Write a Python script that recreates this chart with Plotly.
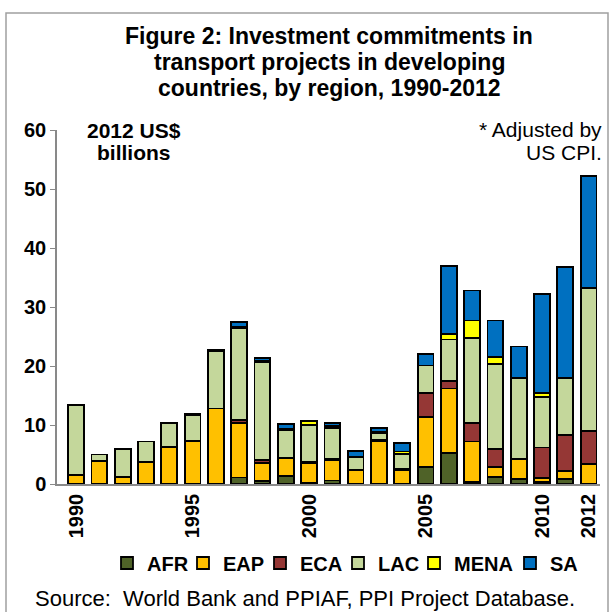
import plotly.graph_objects as go

years = list(range(1990, 2013))
regions = ["AFR", "EAP", "ECA", "LAC", "MENA", "SA"]
afr = [0, 0, 0, 0, 0, 0, 0.1, 1.1, 0.5, 1.4, 0.2, 0.6, 0.1, 0.1, 0.1, 2.9, 5.2, 0.3, 1.2, 0.8, 0.4, 0.85, 0.05]
eap = [1.5, 3.9, 1.2, 3.7, 6.3, 7.3, 12.7, 9.3, 3.0, 3.0, 3.4, 3.5, 2.2, 7.2, 2.2, 8.5, 11.0, 6.9, 1.7, 3.4, 0.6, 1.35, 3.4]
eca = [0, 0, 0, 0, 0, 0, 0, 0.4, 0.6, 0.1, 0.2, 0.1, 0.1, 0.1, 0.2, 4.0, 1.3, 3.2, 3.1, 0.1, 5.2, 6.1, 5.6]
lac = [11.9, 1.1, 4.7, 3.5, 4.1, 4.4, 9.8, 15.6, 16.6, 4.7, 6.2, 5.3, 2.2, 1.3, 2.6, 4.7, 7.0, 14.3, 14.4, 13.6, 8.6, 9.6, 24.2]
mena = [0, 0, 0, 0, 0, 0.1, 0.1, 0.3, 0.2, 0.1, 0.6, 0.3, 0, 0.1, 0.4, 0, 0.9, 3.0, 1.1, 0.1, 0.6, 0, 0]
sa = [0, 0, 0, 0, 0, 0.1, 0.1, 0.8, 0.4, 0.9, 0.1, 0.5, 1.0, 0.7, 1.4, 1.9, 11.6, 5.1, 6.2, 5.3, 16.8, 18.9, 19.0]
tick_years = [1990, 1995, 2000, 2005, 2010, 2012]
title_lines = ["Figure 2: Investment commitments in",
               "transport projects in developing",
               "countries, by region, 1990-2012"]

series = [afr, eap, eca, lac, mena, sa]
colors = ["#4F6228", "#FFC000", "#953735", "#C4D79B", "#FFFF00", "#0070C0"]

FONT = "Liberation Sans, Arial, sans-serif"

# plot area in pixels
L, R, T, B = 57, 600, 130, 484
W, H = R - L, B - T


def px(x):
    return (x - L) / W


def py(y):
    return (B - y) / H


# legend text left positions (pixels) in the original
legend_text_x = [147, 223, 300, 378, 454, 550]

fig = go.Figure()
for i, (name, vals, col) in enumerate(zip(regions, series, colors)):
    lg = "legend" if i == 0 else f"legend{i + 1}"
    fig.add_trace(go.Bar(
        x=years, y=vals, name=name, width=0.68, legend=lg, showlegend=True,
        marker=dict(color=col, line=dict(color="black", width=1.8)),
    ))

layout = dict(
    barmode="stack",
    showlegend=True,
    width=610, height=612,
    margin=dict(l=L, r=610 - R, t=T, b=612 - B),
    paper_bgcolor="white", plot_bgcolor="white",
    font=dict(family=FONT, color="black"),
    xaxis=dict(
        range=[1989.18, 2012.49], tickvals=tick_years,
        tickangle=-90, tickfont=dict(family=FONT, size=20, weight="bold"),
        showline=True, linecolor="#898989", linewidth=1.5,
        showgrid=False, zeroline=False, ticks="",
    ),
    yaxis=dict(
        range=[0, 60], tickvals=[0, 10, 20, 30, 40, 50, 60],
        tickfont=dict(family=FONT, size=20, weight="bold"),
        showline=True, linecolor="#898989", linewidth=1.5,
        ticks="outside", ticklen=5, tickcolor="#898989",
        showgrid=False, zeroline=False,
    ),
    bargap=0.3,
)
for i, tx in enumerate(legend_text_x):
    key = "legend" if i == 0 else f"legend{i + 1}"
    layout[key] = dict(
        orientation="h", x=px(tx - 40), xanchor="left", y=py(563), yanchor="middle",
        font=dict(family=FONT, size=20, weight="bold"),
        bgcolor="rgba(0,0,0,0)", borderwidth=0, itemwidth=30, visible=True,
    )
fig.update_layout(**layout)

for line, yc in zip(title_lines, [36, 62, 88]):
    fig.add_annotation(
        text=line, xref="paper", yref="paper", x=px(329), y=py(yc),
        xanchor="center", yanchor="middle", showarrow=False,
        font=dict(family=FONT, size=23, weight="bold"),
    )

for line, yc in zip(["2012 US$", "billions"], [130, 152]):
    fig.add_annotation(
        text=line, xref="paper", yref="paper", x=px(134), y=py(yc),
        xanchor="center", yanchor="middle", showarrow=False,
        font=dict(family=FONT, size=21, weight="bold"),
    )
for line, yc in zip(["* Adjusted by", "US CPI."], [129, 152]):
    fig.add_annotation(
        text=line, xref="paper", yref="paper", x=px(604), y=py(yc),
        xanchor="right", yanchor="middle", showarrow=False,
        font=dict(family=FONT, size=21),
    )
fig.add_annotation(
    text="Source:  World Bank and PPIAF, PPI Project Database.", xref="paper", yref="paper",
    x=px(33), y=py(598), xanchor="left", yanchor="middle", showarrow=False,
    font=dict(family=FONT, size=22), align="left",
)

# outer frame
fig.add_shape(
    type="rect", xref="paper", yref="paper",
    x0=px(6), x1=px(608), y0=py(640), y1=py(13),
    line=dict(color="#A0A0A0", width=1.5), fillcolor="rgba(0,0,0,0)", layer="below",
)

fig.write_html("out.html")
